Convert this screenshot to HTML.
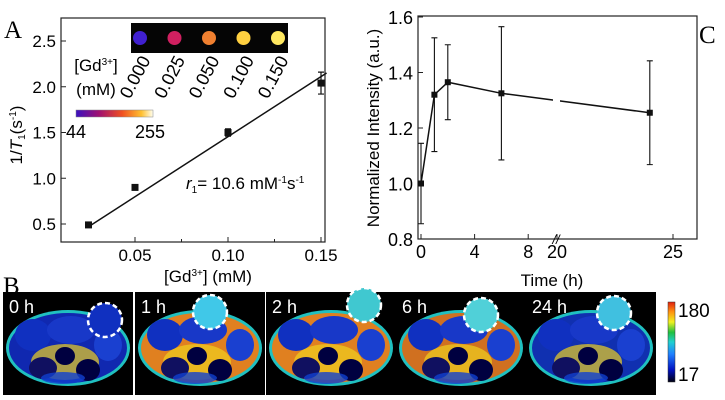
<!DOCTYPE html>
<html><head><meta charset="utf-8"><style>
body{margin:0;background:#fff}
svg{display:block;font-family:"Liberation Sans",sans-serif}
</style></head><body>
<svg id="fig" width="725" height="400" viewBox="0 0 725 400" xmlns="http://www.w3.org/2000/svg">
<defs>
<linearGradient id="inf" x1="0" x2="1"><stop offset="0" stop-color="#3a10c0"/><stop offset="0.3" stop-color="#a01070"/><stop offset="0.6" stop-color="#f05020"/><stop offset="0.85" stop-color="#ffc030"/><stop offset="1" stop-color="#fffff0"/></linearGradient>
<linearGradient id="jet" x1="0" y1="1" x2="0" y2="0"><stop offset="0" stop-color="#000010"/><stop offset="0.15" stop-color="#0010c0"/><stop offset="0.35" stop-color="#2080ff"/><stop offset="0.5" stop-color="#20d0d0"/><stop offset="0.62" stop-color="#20c040"/><stop offset="0.75" stop-color="#f0f020"/><stop offset="0.88" stop-color="#ff9010"/><stop offset="1" stop-color="#e02010"/></linearGradient>
</defs>

<!-- Panel A -->
<g id="panelA">
<text x="4" y="38" font-family="Liberation Serif,serif" font-size="25">A</text>
<rect x="61" y="18" width="264" height="224" fill="none" stroke="#222" stroke-width="1.2"/>
<g id="aTicks"></g>
<line id="fitLine" stroke="#111" stroke-width="1.5"/>
<g id="aPts"></g>
<text transform="translate(22,135) rotate(-90)" text-anchor="middle" font-size="17">1/<tspan font-style="italic">T</tspan><tspan font-size="10" dy="3">1</tspan><tspan dy="-3">(s</tspan><tspan font-size="10" dy="-6">-1</tspan><tspan dy="6">)</tspan></text>
<text x="208" y="282" text-anchor="middle" font-size="17">[Gd<tspan font-size="10" dy="-6">3+</tspan><tspan dy="6">]  (mM)</tspan></text>
<text x="186" y="189" font-size="17"><tspan font-style="italic">r</tspan><tspan font-size="10" dy="4">1</tspan><tspan dy="-4">= 10.6 mM</tspan><tspan font-size="10" dy="-6">-1</tspan><tspan dy="6">s</tspan><tspan font-size="10" dy="-6">-1</tspan></text>
<rect x="131" y="23" width="157" height="30" fill="#050505"/>
<g id="phantoms"></g>
<text x="96" y="71" text-anchor="middle" font-size="17">[Gd<tspan font-size="10" dy="-6">3+</tspan><tspan dy="6">]</tspan></text>
<text x="96" y="95" text-anchor="middle" font-size="17">(mM)</text>
<rect x="76" y="110" width="77" height="7" fill="url(#inf)" stroke="#888" stroke-width="0.5"/>
<text x="76" y="138" text-anchor="middle" font-size="18">44</text>
<text x="150" y="138" text-anchor="middle" font-size="18">255</text>
</g>

<!-- Panel C -->
<g id="panelC">
<text x="699" y="43" font-family="Liberation Serif,serif" font-size="25">C</text>
<rect x="418" y="16" width="279" height="223" fill="none" stroke="#222" stroke-width="1.2"/>
<g id="cTicks"></g>
<g id="cSeries"></g>
<text transform="translate(379,128) rotate(-90)" text-anchor="middle" font-size="17">Normalized Intensity (a.u.)</text>
<text x="552" y="286" text-anchor="middle" font-size="17">Time (h)</text>
</g>

<!-- Panel B -->
<g id="panelB">
<text x="3" y="294" font-family="Liberation Serif,serif" font-size="25">B</text>
<g id="mice"></g>
<rect x="668" y="302" width="7" height="80" fill="url(#jet)" stroke="#333" stroke-width="0.5"/>
<text x="678" y="317" font-size="19">180</text>
<text x="678" y="381" font-size="19">17</text>
</g>
</svg>
<script>
const NS="http://www.w3.org/2000/svg";
// Panel A data
const aConc=[0.025,0.05,0.10,0.15];
const aRate=[0.49,0.90,1.50,2.04];
const aErr=[0.02,0.02,0.04,0.12];
const aFit=[0.025,0.153];
const aFitY=[0.47,2.15];
const aYTicks=[0.5,1.0,1.5,2.0,2.5];
const aXTicks=[0.05,0.10,0.15];
const aXMinor=[0.075,0.125];
const phantomConc=["0.000","0.025","0.050","0.100","0.150"];
const phantomColor=["#4020d0","#d02060","#f08030","#ffd040","#ffe860"];
// Panel C data
const cTime=[0,1,2,6,24];
const cVal=[1.0,1.32,1.365,1.325,1.255];
const cErr=[0.145,0.205,0.135,0.24,0.187];
const cYTicks=[0.8,1.0,1.2,1.4,1.6];
const cXTicks1=[0,4,8];
const cXTicks2=[20,25];
// Panel B data
const miceLabels=["0 h","1 h","2 h","6 h","24 h"];

function mk(tag,attrs,parent){const e=document.createElementNS(NS,tag);for(const k in attrs)e.setAttribute(k,attrs[k]);parent.appendChild(e);return e;}
const ax=v=>135+(v-0.05)*1860;
const ay=v=>224-(v-0.5)*91.5;
const cy=v=>239-(v-0.8)*277.5;
const cx=t=>t<=10?421+t*13.4:557+(t-20)*23.2;

const aT=document.getElementById('aTicks');
aYTicks.forEach(v=>{
 const l=mk('line',{x1:61,x2:66,y1:ay(v),y2:ay(v),stroke:'#222'},aT);
 
 
 const t=mk('text',{x:56,y:ay(v)+6,'text-anchor':'end','font-size':17},aT);t.textContent=v.toFixed(1);
 
 
});
aXTicks.forEach(v=>{
 const l=mk('line',{x1:ax(v),x2:ax(v),y1:242,y2:237,stroke:'#222'},aT);
 
 
 const t=mk('text',{x:ax(v),y:261,'text-anchor':'middle','font-size':17},aT);t.textContent=v.toFixed(2);
 
 
});
aXMinor.forEach(v=>{const l=mk('line',{x1:ax(v),x2:ax(v),y1:242,y2:239,stroke:'#222'},aT);
 
 });
const fl=document.getElementById('fitLine');
fl.setAttribute('x1',ax(aFit[0]));fl.setAttribute('y1',ay(aFitY[0]));fl.setAttribute('x2',ax(aFit[1]));fl.setAttribute('y2',ay(aFitY[1]));
const aP=document.getElementById('aPts');
aConc.forEach((c,i)=>{
 const x=ax(c),y=ay(aRate[i]),e1=ay(aRate[i]+aErr[i]),e2=ay(aRate[i]-aErr[i]);
 const eb=mk('path',{d:`M${x},${e1}V${e2}M${x-3},${e1}H${x+3}M${x-3},${e2}H${x+3}`,stroke:'#111','stroke-width':1.2,fill:'none'},aP);
 
 
 const r=mk('rect',{x:x-3.5,y:y-3.5,width:7,height:7,fill:'#111'},aP);
 
 
});
const ph=document.getElementById('phantoms');
phantomConc.forEach((c,i)=>{
 const x=140+i*34.5;
 const d=mk('circle',{cx:x,cy:38,r:7,fill:phantomColor[i]},ph);
 
 
 const t=mk('text',{transform:`translate(${x+11},60) rotate(-62)`,'font-size':18,'text-anchor':'end'},ph);
 t.textContent=c;
 
 
});

// Panel C
const cT=document.getElementById('cTicks');
cYTicks.forEach(v=>{
 const l=mk('line',{x1:418,x2:423,y1:cy(v),y2:cy(v),stroke:'#222'},cT);
 
 
 const t=mk('text',{x:413,y:cy(v)+7,'text-anchor':'end','font-size':18},cT);t.textContent=v.toFixed(1);
 
 
});
cXTicks1.concat(cXTicks2).forEach(v=>{
 const l=mk('line',{x1:cx(v),x2:cx(v),y1:239,y2:234,stroke:'#222'},cT);
 
 
 const t=mk('text',{x:cx(v),y:258,'text-anchor':'middle','font-size':18},cT);t.textContent=v;
 
 
});
const brk=mk('text',{x:556,y:244,'text-anchor':'middle','font-size':13,'font-style':'italic'},cT);brk.textContent='//';


const cS=document.getElementById('cSeries');
let d='';
cTime.forEach((t,i)=>{d+=(i?'L':'M')+cx(t)+','+cy(cVal[i]);});
const ln=mk('path',{d:d,stroke:'#111','stroke-width':1.5,fill:'none'},cS);


const gap=mk('rect',{x:553,y:90,width:7,height:20,fill:'#fff'},cS);


cTime.forEach((t,i)=>{
 const x=cx(t),y=cy(cVal[i]),e1=cy(cVal[i]+cErr[i]),e2=cy(cVal[i]-cErr[i]);
 const eb=mk('path',{d:`M${x},${e1}V${e2}M${x-3},${e1}H${x+3}M${x-3},${e2}H${x+3}`,stroke:'#111','stroke-width':1.1,fill:'none'},cS);
 
 
 const r=mk('rect',{x:x-3,y:y-3,width:6,height:6,fill:'#111'},cS);
 
 
});

// Panel B mice
const mG=document.getElementById('mice');
const px=[3,135,266,396,526];
const tumor=[[102,320],[75,312],[98,305],[85,315],[88,313]];
const tumorFill=['#1030c0','#40c8e8','#40c8d0','#50d0d8','#40c0e0'];
const bodyFill=['#1028b0','#e08020','#e08020','#d07020','#1030b0'];
miceLabels.forEach((lab,i)=>{
 const x0=px[i];
 const g=mk('g',{},mG);
 
 
 mk('rect',{x:x0,y:292,width:130,height:103,fill:'#000'},g);
 mk('ellipse',{cx:x0+65,cy:348,rx:62,ry:38,fill:'#20c0c0'},g);
 mk('ellipse',{cx:x0+65,cy:348,rx:59,ry:35,fill:bodyFill[i]},g);
 mk('ellipse',{cx:x0+30,cy:335,rx:18,ry:16,fill:'#1030c0'},g);
 mk('ellipse',{cx:x0+68,cy:330,rx:24,ry:14,fill:'#1838c8'},g);
 mk('ellipse',{cx:x0+105,cy:345,rx:14,ry:16,fill:'#1a40d0'},g);
 mk('ellipse',{cx:x0+62,cy:362,rx:34,ry:18,fill:'#f0d020',opacity:0.7},g);
 mk('ellipse',{cx:x0+40,cy:368,rx:14,ry:11,fill:'#101060'},g);
 mk('ellipse',{cx:x0+62,cy:356,rx:10,ry:9,fill:'#000040'},g);
 mk('ellipse',{cx:x0+85,cy:370,rx:12,ry:11,fill:'#000040'},g);
 mk('ellipse',{cx:x0+60,cy:378,rx:22,ry:6,fill:'#1040d0',opacity:0.8},g);
 mk('circle',{cx:x0+tumor[i][0],cy:tumor[i][1],r:17,fill:tumorFill[i],stroke:'#fff','stroke-width':2.5,'stroke-dasharray':'5 3'},g);
 const t=mk('text',{x:x0+6,y:313,fill:'#fff','font-size':18},g);t.textContent=lab;
 
 
});
</script>
</body></html>
